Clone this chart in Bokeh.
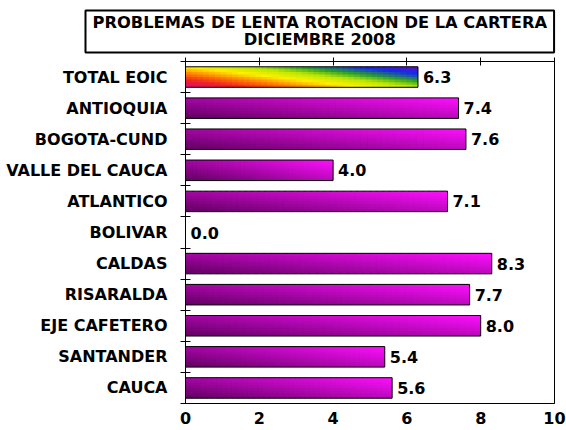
import numpy as np
from bokeh.plotting import figure
from bokeh.models import Range1d, FixedTicker, LinearAxis, ColumnDataSource, Title
from bokeh.core.properties import value
from bokeh.embed import file_html
from bokeh.resources import INLINE

# ---------------- data ----------------
title_text = "PROBLEMAS DE LENTA ROTACION DE LA CARTERA\nDICIEMBRE 2008"
categories = ["TOTAL EOIC", "ANTIOQUIA", "BOGOTA-CUND", "VALLE DEL CAUCA",
              "ATLANTICO", "BOLIVAR", "CALDAS", "RISARALDA", "EJE CAFETERO",
              "SANTANDER", "CAUCA"]
values = [6.3, 7.4, 7.6, 4.0, 7.1, 0.0, 8.3, 7.7, 8.0, 5.4, 5.6]
x_ticks = [0, 2, 4, 6, 8, 10]

# ---------------- style ----------------
FONT = "DejaVu Sans"
FS = "16px"
W = 566
H = 430
BAR_H = 0.66
NX, NY = 40, 8

rainbow = [(0.00, (214, 16, 120)), (0.14, (240, 30, 40)), (0.28, (255, 120, 0)),
           (0.43, (255, 240, 0)), (0.57, (190, 230, 0)), (0.70, (40, 160, 40)),
           (0.85, (20, 40, 240)), (1.00, (100, 20, 180))]
magenta = [(0.0, (96, 0, 96)), (1.0, (255, 16, 255))]


def cmap(t, stops):
    for (t0, c0), (t1, c1) in zip(stops[:-1], stops[1:]):
        if t <= t1:
            f = (t - t0) / (t1 - t0)
            r, g, b = (int(round(a + (bb - a) * f)) for a, bb in zip(c0, c1))
            return "#%02x%02x%02x" % (r, g, b)
    r, g, b = stops[-1][1]
    return "#%02x%02x%02x" % (r, g, b)


n = len(categories)
ys = [n - 1 - i for i in range(n)]

# gradient cells derived from the bar values
cl, cr, cb, ct, cc = [], [], [], [], []
for i, (v, yc) in enumerate(zip(values, ys)):
    if v <= 0:
        continue
    stops = rainbow if i == 0 else magenta
    xs = np.linspace(0, v, NX + 1)
    y0 = yc - BAR_H / 2
    for j in range(NX):
        for k in range(NY):
            t = ((j + 0.5) / NX + 0.75 * (k + 0.5) / NY) / 1.75
            cl.append(xs[j])
            cr.append(min(xs[j + 1] + 0.4 * v / NX, v))
            cb.append(y0 + BAR_H * k / NY)
            ct.append(min(y0 + BAR_H * (k + 1.4) / NY, yc + BAR_H / 2))
            cc.append(cmap(t, stops))

# ---------------- figure ----------------
p = figure(width=W, height=H, x_range=Range1d(0, 10), y_range=Range1d(-0.5, n - 0.5),
           output_backend="svg", toolbar_location=None,
           x_axis_location=None, y_axis_location=None,
           min_border_left=185, min_border_right=12, min_border_top=61, min_border_bottom=27)
p.outline_line_color = "black"
p.outline_line_width = 1
p.grid.visible = False

src = ColumnDataSource(dict(left=cl, right=cr, bottom=cb, top=ct, color=cc))
p.quad(left="left", right="right", bottom="bottom", top="top", fill_color="color",
       line_color=None, source=src)

bars_v = [v for v in values if v > 0]
bars_y = [y for v, y in zip(values, ys) if v > 0]
p.hbar(y=bars_y, right=bars_v, left=0, height=BAR_H, fill_color=None,
       line_color="black", line_width=1)

p.text(x=values, y=ys, text=[f"{v:.1f}" for v in values], x_offset=5,
       text_baseline="middle", text_font=value(FONT), text_font_style="bold",
       text_font_size=FS, text_color="black")

left_ax = LinearAxis(
    ticker=FixedTicker(ticks=ys, minor_ticks=[y + 0.5 for y in ys] + [-0.5]),
    major_label_overrides={y: c for y, c in zip(ys, categories)},
    major_tick_line_color=None, major_tick_in=0, major_tick_out=0,
    minor_tick_in=5, minor_tick_out=5, minor_tick_line_color="black",
    axis_line_color="black", major_label_standoff=13,
    major_label_text_font=FONT, major_label_text_font_style="bold",
    major_label_text_font_size=FS, major_label_text_color="black")
p.add_layout(left_ax, "left")

top_ax = LinearAxis(
    ticker=FixedTicker(ticks=[], minor_ticks=x_ticks), axis_line_color=None,
    major_tick_line_color=None, major_tick_in=0, major_tick_out=0,
    minor_tick_in=4, minor_tick_out=4, minor_tick_line_color="black",
    major_label_standoff=0)
p.add_layout(top_ax, "above")

bot_ax = LinearAxis(
    ticker=FixedTicker(ticks=x_ticks), axis_line_color="black",
    major_tick_line_color=None, major_tick_in=0, major_tick_out=0,
    minor_tick_line_color=None, major_label_standoff=8,
    major_label_text_font=FONT, major_label_text_font_style="bold",
    major_label_text_font_size=FS, major_label_text_color="black")
p.add_layout(bot_ax, "below")

# title box
p.add_layout(Title(text=title_text, align="left", offset=-100, standoff=10,
                   vertical_align="bottom",
                   text_font=FONT, text_font_style="bold", text_font_size="16.3px",
                   text_color="black", text_align="center", text_line_height=0.9,
                   background_fill_color="white", border_line_color="black",
                   border_line_width=2,
                   padding=dict(top=3, right=7, bottom=3, left=7)), "above")

open("out.html", "w").write(file_html(p, INLINE))
